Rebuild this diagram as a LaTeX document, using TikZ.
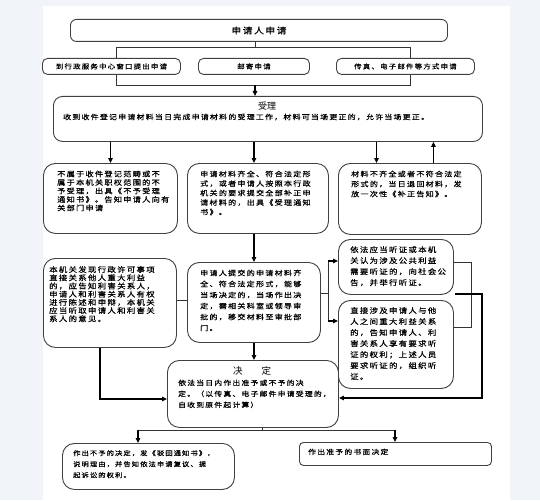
\documentclass[tikz,border=0pt]{standalone}
\usepackage{fontspec}
\newfontfamily\cjk[LetterSpace=18,FakeStretch=1.15,FakeBold=0.6]{Noto Sans CJK SC}
\newfontfamily\cjkt{Noto Sans CJK SC}
\newcommand\cjkf[2]{\cjk\fontsize{#1}{#2}\selectfont}
\usetikzlibrary{arrows.meta}
\definecolor{bgc}{HTML}{F1F4F8}
\begin{document}
\begin{tikzpicture}[x=1pt,y=-1pt,
  box/.style={draw=black!75, line width=0.9pt, fill=white, rounded corners=#1, anchor=north west, inner sep=0pt},
  box/.default=12pt,
  txt/.style={anchor=north west, inner sep=0pt, align=left},
  arr/.style={-{Triangle[length=5pt,width=4.5pt]}, line width=1.2pt, black},
  ln/.style={line width=0.8pt, black!80}]
\fill[bgc] (0,0) rectangle (540,500);
\fill[white] (43,6) rectangle (510,500);
\useasboundingbox (0,0) rectangle (540,500);

% coordinates for connectors
\coordinate (mid) at (255,0);
\coordinate (brtl) at (116,47);
\coordinate (brbr) at (410,85);
\draw[ln] (brtl) rectangle (brbr);

% top
\node[box=6pt, minimum width=377pt, minimum height=22pt] (top) at (70,19) {\cjkf{8.5}{10}申请人申请};
\node[box=5pt, minimum width=138pt, minimum height=16pt] (r1) at (42,58) {\cjkf{6.5}{8}到行政服务中心窗口提出申请};
\node[box=5pt, minimum width=111pt, minimum height=16pt] (r2) at (198,58) {\cjkf{6.5}{8}邮寄申请};
\node[box=5pt, minimum width=138pt, minimum height=16pt] (r3) at (336,58) {\cjkf{6.5}{8}传真、电子邮件等方式申请};
\draw[ln] (top.south -| mid) -- (brtl -| mid);

% shouli
\node[box=9pt, minimum width=429pt, minimum height=45pt] (sl) at (53,96) {};
\node[txt, anchor=center, font=\cjkt\fontsize{9}{10}\selectfont] (slt) at (267,106) {受理};
\node[txt, font=\cjkf{6.9}{9}] (slx) at (63,113.5) {收到收件登记申请材料当日完成申请材料的受理工作，材料可当场更正的，允许当场更正。};
\draw[arr] (brbr -| mid) -- (sl.north -| mid);

% row 2
\node[box, minimum width=134pt, minimum height=70pt] (b1) at (43,163) {};
\node[txt, font=\cjkf{7.1}{8.5}] (t1) at (57,170.5) {不属于收件登记范畴或不\\属于本机关职权范围的不\\予受理，出具《不予受理\\通知书》。告知申请人向有\\关部门申请};
\node[box, minimum width=141pt, minimum height=70pt] (b2) at (187,163) {};
\node[txt, font=\cjkf{7}{9.5}] (t2) at (200,170.5) {申请材料齐全、符合法定形\\式，或者申请人按照本行政\\机关的要求提交全部补正申\\请材料的，出具《受理通知\\书》。};
\node[box, minimum width=143pt, minimum height=71pt] (b3) at (338,163) {};
\node[txt, font=\cjkf{7}{10}] (t3) at (351,170.5) {材料不齐全或者不符合法定\\形式的，当日退回材料，发\\放一次性《补正告知》。};

% row 3
\node[box, minimum width=133pt, minimum height=89pt] (b4) at (43,258) {};
\node[txt, font=\cjkf{7.3}{8.2}] (t4) at (49,266) {本机关发现行政许可事项\\直接关系他人重大利益\\的，应告知利害关系人，\\申请人和利害关系人有权\\进行陈述和申辩，本机关\\应当听取申请人和利害关\\系人的意见。};
\node[box, minimum width=133pt, minimum height=80pt] (b5) at (187,262) {};
\node[txt, font=\cjkf{7}{11}] (t5) at (200,269.5) {申请人提交的申请材料齐\\全、符合法定形式，能够\\当场决定的，当场作出决\\定，需相关科室或领导审\\批的，移交材料至审批部\\门。};
\node[box, minimum width=115pt, minimum height=55pt] (b6) at (338,239) {};
\node[txt, font=\cjkf{7.3}{11}] (t6) at (350,246) {依法应当听证或本机\\关认为涉及公共利益\\需要听证的，向社会公\\告，并举行听证。};
\node[box, minimum width=115pt, minimum height=88pt] (b7) at (338,300) {};
\node[txt, font=\cjkf{7.3}{11}] (t7) at (350,307) {直接涉及申请人与他\\人之间重大利益关系\\的，告知申请人、利\\害关系人享有要求听\\证的权利；上述人员\\要求听证的，组织听\\证。};

% decision
\node[box, minimum width=171pt, minimum height=67pt] (dec) at (167,360) {};
\node[txt, anchor=center, font=\cjkt\fontsize{9.5}{11}\selectfont] (dect) at (252,371) {决\hspace{19pt}定};
\node[txt, font=\cjkf{6.8}{11}] (decx) at (178,379.5) {依法当日内作出准予或不予的决\\定。（以传真、电子邮件申请受理的，\\自收到原件起计算）};

% bottom
\node[box, minimum width=172pt, minimum height=46pt] (bl) at (62,443) {};
\node[txt, font=\cjkf{6.3}{11}] (tbl) at (73,450) {作出不予的决定，发《驳回通知书》，\\说明理由，并告知依法申请复议、提\\起诉讼的权利。};
\node[box=4pt, minimum width=192pt, minimum height=23pt] (brb) at (299,442) {};
\node[txt, font=\cjkf{6.8}{9}] (tbr) at (308,448.5) {作出准予的书面决定};

% connectors from shouli
\path ([xshift=-33.5pt]b3.north) coordinate (b3a) ([xshift=23.5pt]b3.north) coordinate (b3b);
\draw[arr] (sl.south -| b1.north) -- (b1.north);
\draw[arr] (sl.south -| b5.north) -- (b2.north -| b5.north);
\draw[arr] (sl.south -| b3a) -- (b3a);
\draw[arr] (b3b) -- (sl.south -| b3b);
\draw[arr] (b2.south -| b5.north) -- (b5.north);

% row 3 connectors
\coordinate (h1) at (181,300);
\draw[ln] (b4.east |- h1) -- (b5.west |- h1);
\coordinate (j1) at (328,293);
\coordinate (s1) at (328,261);
\coordinate (s2) at (328,321);
\draw[ln] (b5.east |- j1) -- (j1);
\draw[ln] (s1) -- (s2);
\draw[arr] (s1) -- (b6.west |- s1);
\draw[arr] (s2) -- (b7.west |- s2);
\coordinate (q1) at (471,262);
\coordinate (q2) at (471,327);
\draw[ln] (b6.east |- q1) -- (q1) -- (q2) -- (b7.east |- q2);
\coordinate (q3) at (455,294);
\coordinate (q4) at (482,294);
\coordinate (q5) at (482,398);
\draw[arr] (q3) -- (q4) -- (q5) -- (dec.east |- q5);
\coordinate (l1) at (100,399);
\draw[arr] (b4.south -| l1) -- (l1) -- (dec.west |- l1);
\draw[arr] (b5.south) -- (dec.north -| b5.south);

% decision outputs
\coordinate (d1) at (262,430);
\coordinate (d2) at (138,430);
\coordinate (d3) at (395,430);
\draw[ln] (dec.south -| d1) -- (d1);
\draw[ln] (d2) -- (d3);
\draw[arr] (d2) -- (bl.north -| d2);
\draw[arr] (d3) -- (brb.north -| d3);
\end{tikzpicture}
\end{document}
